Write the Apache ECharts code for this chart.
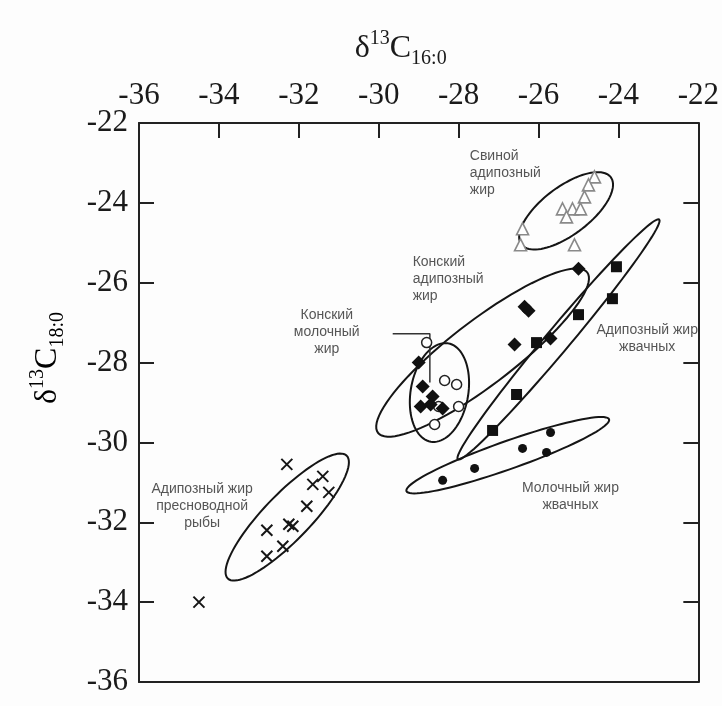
<!DOCTYPE html>
<html>
<head>
<meta charset="utf-8">
<script src="https://cdn.jsdelivr.net/npm/echarts@6/dist/echarts.min.js"></script>
<style>
  html, body { margin: 0; padding: 0; background: #fff; }
  #chart { width: 722px; height: 706px; }
</style>
</head>
<body>
<div id="chart"></div>
<script>
// axis ticks
var xTicks = [-36, -34, -32, -30, -28, -26, -24, -22];
var yTicks = [-36, -34, -32, -30, -28, -26, -24, -22];

// groups: [d13C 16:0, d13C 18:0]
var pigFat = [[-24.6, -23.35], [-24.75, -23.55], [-24.85, -23.85], [-25.4, -24.15], [-25.15, -24.15],
    [-24.95, -24.15], [-25.3, -24.35], [-26.4, -24.65], [-26.45, -25.05], [-25.1, -25.05]];
var horseFat = [[-25.0, -25.65], [-26.35, -26.6], [-26.25, -26.7], [-26.6, -27.55], [-25.7, -27.4],
    [-29.0, -28.0], [-28.9, -28.6], [-28.65, -28.85], [-28.95, -29.1], [-28.4, -29.15], [-28.7, -29.05]];
var horseMilk = [[-28.8, -27.5], [-28.35, -28.45], [-28.05, -28.55], [-28.0, -29.1], [-28.6, -29.55], [-28.5, -29.1]];
var ruminantFat = [[-24.05, -25.6], [-24.15, -26.4], [-25.0, -26.8], [-26.05, -27.5], [-26.55, -28.8], [-27.15, -29.7]];
var ruminantMilk = [[-28.4, -30.95], [-27.6, -30.65], [-26.4, -30.15], [-25.8, -30.25], [-25.7, -29.75]];
var fishFat = [[-34.5, -34.0], [-32.3, -30.55], [-31.4, -30.85], [-31.65, -31.05], [-31.25, -31.25], [-31.8, -31.6],
    [-32.25, -32.05], [-32.15, -32.1], [-32.8, -32.2], [-32.4, -32.6], [-32.8, -32.85]];

// group envelopes: [centre x, centre y, half length, half width, angle deg]
var envelopes = [
    [-25.31, -24.2, 1.4, 0.6, 37],
    [-25.5, -27.42, 3.92, 0.3, 50],
    [-27.4, -27.75, 3.3, 0.8, 37.5],
    [-28.48, -28.75, 1.25, 0.72, 80],
    [-26.77, -30.32, 2.69, 0.35, 19.5],
    [-32.29, -31.87, 2.14, 0.58, 46]
];

// group captions: [x, y, text, align]
var captions = [
    [-27.72, -23.25, 'Свиной\nадипозный\nжир', 'left'],
    [-29.15, -25.9, 'Конский\nадипозный\nжир', 'left'],
    [-31.3, -27.25, 'Конский\nмолочный\nжир', 'center'],
    [-23.28, -27.4, 'Адипозный жир\nжвачных', 'center'],
    [-25.2, -31.35, 'Молочный жир\nжвачных', 'center'],
    [-34.42, -31.6, 'Адипозный жир\nпресноводной\nрыбы', 'center']
];
var pointer = [[-29.65, -27.28], [-28.72, -27.28], [-28.72, -28.5]];

var dom = document.getElementById('chart');
var myChart = echarts.init(dom);

function drawEnvelope(params, api) {
    var cx = api.value(0), cy = api.value(1), a = api.value(2), b = api.value(3);
    var t = api.value(4) * Math.PI / 180;
    var pts = [];
    for (var i = 0; i <= 90; i++) {
        var p = i / 90 * 2 * Math.PI;
        var x = cx + a * Math.cos(p) * Math.cos(t) - b * Math.sin(p) * Math.sin(t);
        var y = cy + a * Math.cos(p) * Math.sin(t) + b * Math.sin(p) * Math.cos(t);
        pts.push(api.coord([x, y]));
    }
    return {
        type: 'polygon',
        shape: { points: pts },
        style: { fill: 'none', stroke: '#151515', lineWidth: 2 }
    };
}

var serifLabel = { fontFamily: 'Liberation Serif', fontSize: 31, color: '#1a1a1a' };
var titleRich = {
    b: { fontFamily: 'Liberation Serif', fontSize: 32, color: '#1a1a1a', lineHeight: 40 },
    s: { fontFamily: 'Liberation Serif', fontSize: 20, color: '#1a1a1a', lineHeight: 20, verticalAlign: 'top' },
    d: { fontFamily: 'Liberation Serif', fontSize: 20, color: '#1a1a1a', lineHeight: 20, verticalAlign: 'bottom' }
};

option = {
    backgroundColor: '#fdfdfd',
    animation: false,
    grid: { left: 139, right: 23, top: 123, bottom: 24 },
    graphic: [{
        type: 'text',
        left: 28,
        top: 312,
        rotation: Math.PI / 2,
        style: {
            text: '{b|δ}{s|13}{b|C}{d|18:0}',
            rich: titleRich
        }
    }],
    xAxis: [{
        type: 'value',
        position: 'top',
        min: -36, max: -22, interval: 2,
        name: '{b|δ}{s|13}{b|C}{d|16:0}',
        nameLocation: 'middle',
        nameGap: 54,
        nameTextStyle: { padding: [0, 36, 0, 0], rich: titleRich },
        axisLine: { lineStyle: { color: '#222', width: 2 } },
        axisTick: { inside: true, length: 15, lineStyle: { color: '#222', width: 2 } },
        axisLabel: Object.assign({ margin: 12 }, serifLabel),
        splitLine: { show: false }
    }, {
        type: 'value',
        position: 'bottom',
        min: -36, max: -22, interval: 2,
        axisLine: { lineStyle: { color: '#222', width: 2 } },
        axisTick: { show: false },
        axisLabel: { show: false },
        splitLine: { show: false }
    }],
    yAxis: [{
        type: 'value',
        position: 'left',
        min: -36, max: -22, interval: 2,
        axisLine: { lineStyle: { color: '#222', width: 2 } },
        axisTick: { inside: true, length: 15, lineStyle: { color: '#222', width: 2 } },
        axisLabel: Object.assign({ margin: 11 }, serifLabel),
        splitLine: { show: false }
    }, {
        type: 'value',
        position: 'right',
        min: -36, max: -22, interval: 2,
        axisLine: { lineStyle: { color: '#222', width: 2 } },
        axisTick: { inside: true, length: 15, lineStyle: { color: '#222', width: 2 } },
        axisLabel: { show: false },
        splitLine: { show: false }
    }],
    series: [
        {
            type: 'custom',
            renderItem: drawEnvelope,
            data: envelopes,
            encode: { x: 0, y: 1 },
            silent: true,
            z: 1
        },
        {
            type: 'line',
            data: pointer,
            showSymbol: false,
            lineStyle: { color: '#333', width: 1.5 },
            z: 1
        },
        {
            name: 'Свиной адипозный жир',
            type: 'scatter',
            data: pigFat,
            symbol: 'triangle',
            symbolSize: 12,
            itemStyle: { color: '#fff', borderColor: '#8a8a8a', borderWidth: 1.6, opacity: 1 },
            z: 3
        },
        {
            name: 'Адипозный жир жвачных',
            type: 'scatter',
            data: ruminantFat,
            symbol: 'rect',
            symbolSize: 11,
            itemStyle: { color: '#111', opacity: 1 },
            z: 3
        },
        {
            name: 'Конский молочный жир',
            type: 'scatter',
            data: horseMilk,
            symbol: 'circle',
            symbolSize: 10,
            itemStyle: { color: '#fff', borderColor: '#222', borderWidth: 1.5, opacity: 1 },
            z: 3
        },
        {
            name: 'Конский адипозный жир',
            type: 'scatter',
            data: horseFat,
            symbol: 'diamond',
            symbolSize: 14,
            itemStyle: { color: '#111', opacity: 1 },
            z: 4
        },
        {
            name: 'Молочный жир жвачных',
            type: 'scatter',
            data: ruminantMilk,
            symbol: 'circle',
            symbolSize: 9,
            itemStyle: { color: '#111', opacity: 1 },
            z: 3
        },
        {
            name: 'Адипозный жир пресноводной рыбы',
            type: 'scatter',
            data: fishFat,
            symbol: 'path://M0,0L10,10M10,0L0,10',
            symbolSize: 11,
            itemStyle: { color: 'none', borderColor: '#161616', borderWidth: 2, opacity: 1 },
            z: 3
        },
        {
            type: 'scatter',
            silent: true,
            symbolSize: 0,
            data: captions.map(function (c) {
                return {
                    value: [c[0], c[1]],
                    label: { align: c[3] }
                };
            }),
            label: {
                show: true,
                position: 'inside',
                verticalAlign: 'middle',
                fontFamily: 'Liberation Sans',
                fontSize: 14,
                lineHeight: 17,
                color: '#2a2a2a',
                formatter: function (p) { return captions[p.dataIndex][2]; }
            },
            z: 5
        }
    ]
};

if (option && typeof option === "object") {
    myChart.setOption(option, true);
}
</script>
</body>
</html>
